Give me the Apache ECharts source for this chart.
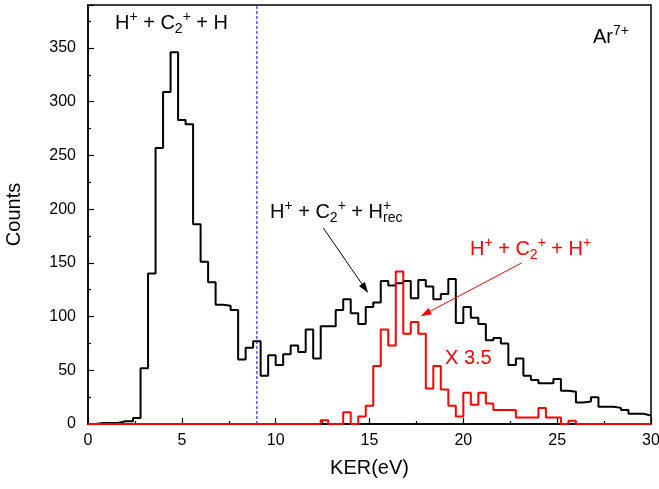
<!DOCTYPE html>
<html>
<head>
<meta charset="utf-8">
<script src="https://cdn.jsdelivr.net/npm/echarts@6/dist/echarts.min.js"></script>
<style>
  html, body { margin: 0; padding: 0; background: #fff; }
  #chart { width: 659px; height: 489px; }
</style>
</head>
<body>
<div id="chart"></div>
<script>
// histogram bins, 0.4 eV wide, starting at 0 eV
const BIN_WIDTH = 0.4;

// H+ + C2+ + H (and H+ + C2+ + H+rec) counts, black
const blackCounts = [
  0, 1, 1, 1, 2.5, 2.5, 5.5, 52, 140, 257,
  309, 346, 283, 279, 186, 151, 132, 111, 110, 106,
  60, 71, 77, 45, 64, 55, 65, 73, 67, 88,
  61, 91, 91, 106, 116, 103, 93, 109, 113, 133,
  129, 131, 133, 117, 134, 128, 116, 121, 135, 94,
  109, 99, 93, 78, 80, 75, 55, 61, 45, 41,
  38, 38, 42, 31, 30, 20, 21, 25, 16, 16,
  15, 13, 9.5, 9.5, 8
];

// H+ + C2+ + H+ counts (x 3.5), red
const redCounts = [
  0, 0, 0, 0, 0, 0, 0, 0, 0, 0,
  0, 0, 0, 0, 0, 0, 0, 0, 0, 0,
  0, 0, 0, 0, 0, 0, 0, 0, 0, 0,
  0, 3.5, 0, 0, 11, 0, 7, 17, 54, 88,
  73, 142, 84, 95, 84, 33, 54, 32, 17, 7,
  29, 18, 29, 19, 13, 13, 13, 6, 6, 6,
  15, 6, 6, 0, 3, 0, 0, 0, 0, 0,
  0, 0, 0, 0, 0
];

const xTicks = { min: 0, max: 30, interval: 5 };
const yTicks = { min: 0, max: 390, interval: 50 };
const cutLine = 9;

const FONT = '"Liberation Sans", Arial, sans-serif';
const BLUE = '#0000ff';

// left bin edges + closing point, drawn as steps
const toSteps = (counts) => {
  const pts = counts.map((v, i) => [+(i * BIN_WIDTH).toFixed(2), v]);
  pts.push([+(counts.length * BIN_WIDTH).toFixed(2), counts[counts.length - 1]]);
  return pts;
};

const chart = echarts.init(document.getElementById('chart'), null, { renderer: 'canvas' });

chart.setOption({
  animation: false,
  grid: {
    left: 88, right: 8, top: 5, bottom: 65,
    containLabel: false,
    outerBoundsMode: 'none',
    show: true, borderColor: '#000', borderWidth: 1.5
  },
  xAxis: {
    type: 'value',
    min: xTicks.min, max: xTicks.max, interval: xTicks.interval,
    name: 'KER(eV)',
    nameLocation: 'middle',
    nameGap: 34,
    nameTextStyle: { fontFamily: FONT, fontSize: 20, color: '#000' },
    axisLine: { lineStyle: { color: '#000', width: 1.5 } },
    axisTick: { inside: true, length: 6, lineStyle: { color: '#000', width: 1.2 } },
    minorTick: { show: true, splitNumber: 2, length: 3, lineStyle: { color: '#000', width: 1.2 } },
    axisLabel: { fontFamily: FONT, fontSize: 16, color: '#000', margin: 9 },
    splitLine: { show: false }
  },
  yAxis: {
    type: 'value',
    min: yTicks.min, max: yTicks.max, interval: yTicks.interval,
    name: 'Counts',
    nameLocation: 'middle',
    nameGap: 64,
    nameTextStyle: { fontFamily: FONT, fontSize: 20, color: '#000' },
    axisLine: { lineStyle: { color: '#000', width: 1.5 } },
    axisTick: { inside: true, length: 6, lineStyle: { color: '#000', width: 1.2 } },
    minorTick: { show: true, splitNumber: 2, length: 3, lineStyle: { color: '#000', width: 1.2 } },
    axisLabel: { fontFamily: FONT, fontSize: 16, color: '#000', margin: 12, showMaxLabel: false },
    splitLine: { show: false }
  },
  series: [
    {
      // vertical dashed marker at 9 eV
      name: 'cut',
      type: 'line',
      data: [[cutLine, yTicks.min], [cutLine, yTicks.max]],
      showSymbol: false,
      itemStyle: { color: BLUE },
      lineStyle: { color: BLUE, width: 1, type: [3, 2] },
      z: 2
    },
    {
      name: 'black',
      type: 'line',
      step: 'end',
      data: toSteps(blackCounts),
      showSymbol: false,
      lineStyle: { color: '#000', width: 2 },
      z: 3
    },
    {
      name: 'red',
      type: 'line',
      step: 'end',
      data: toSteps(redCounts),
      showSymbol: false,
      lineStyle: { color: '#ff0000', width: 2 },
      z: 4
    }
  ]
});

// annotations: formulas with sub/superscripts and arrows
const ctx = document.createElement('canvas').getContext('2d');
const textW = (s, size) => { ctx.font = size + 'px ' + FONT; return ctx.measureText(s).width; };

const txt = (s, x, baseline, size, color) => ({
  type: 'text',
  x: x,
  y: baseline - 0.35 * size,
  z: 10,
  style: {
    text: s, fontFamily: FONT, fontSize: size, fill: color,
    align: 'left', verticalAlign: 'middle',
    textAlign: 'left', textVerticalAlign: 'middle'
  }
});

const formula = (parts, x0, baseline, color, size) => {
  const small = Math.round(size * 0.68);
  const els = [];
  let x = x0;
  parts.forEach(([s, kind]) => {
    if (kind === 'n') {
      els.push(txt(s, x, baseline, size, color));
      x += textW(s, size);
    } else if (kind === 'sup') {
      els.push(txt(s, x, baseline - size * 0.42, small, color));
      x += textW(s, small);
    } else if (kind === 'sub') {
      els.push(txt(s, x, baseline + size * 0.22, small, color));
      x += textW(s, small);
    } else {
      els.push(txt(s[0], x, baseline - size * 0.42, small, color));
      els.push(txt(s[1], x, baseline + size * 0.22, small, color));
      x += Math.max(textW(s[0], small), textW(s[1], small));
    }
  });
  return els;
};

const arrow = (from, to, color) => {
  const p0 = chart.convertToPixel({ gridIndex: 0 }, from);
  const p1 = chart.convertToPixel({ gridIndex: 0 }, to);
  const dx = p1[0] - p0[0], dy = p1[1] - p0[1];
  const len = Math.hypot(dx, dy);
  const ux = dx / len, uy = dy / len;
  const headL = 11, headW = 3.5;
  const bx = p1[0] - ux * headL, by = p1[1] - uy * headL;
  return [
    {
      type: 'line', z: 10,
      shape: { x1: p0[0], y1: p0[1], x2: bx, y2: by },
      style: { stroke: color, lineWidth: 1 }
    },
    {
      type: 'polygon', z: 10,
      shape: { points: [[p1[0], p1[1]], [bx - uy * headW, by + ux * headW], [bx + uy * headW, by - ux * headW]] },
      style: { fill: color }
    }
  ];
};

const graphics = [].concat(
  formula([['H', 'n'], ['+', 'sup'], [' + C', 'n'], ['2', 'sub'], ['+', 'sup'], [' + H', 'n']], 115, 30, '#000', 20),
  formula([['Ar', 'n'], ['7+', 'sup']], 593, 44, '#000', 20),
  formula([['H', 'n'], ['+', 'sup'], [' + C', 'n'], ['2', 'sub'], ['+', 'sup'], [' + H', 'n'], [['+', 'rec'], 'both']], 270, 219, '#000', 20),
  formula([['H', 'n'], ['+', 'sup'], [' + C', 'n'], ['2', 'sub'], ['+', 'sup'], [' + H', 'n'], ['+', 'sup']], 470, 256, '#ff0000', 20),
  formula([['X 3.5', 'n']], 445, 365, '#ff0000', 20),
  arrow([12.54, 182.4], [14.93, 121.9], '#000'),
  arrow([23.1, 149.9], [17.72, 100.2], '#ff0000')
);

chart.setOption({ graphic: { elements: graphics } });

window.addEventListener('resize', () => chart.resize());
</script>
</body>
</html>
